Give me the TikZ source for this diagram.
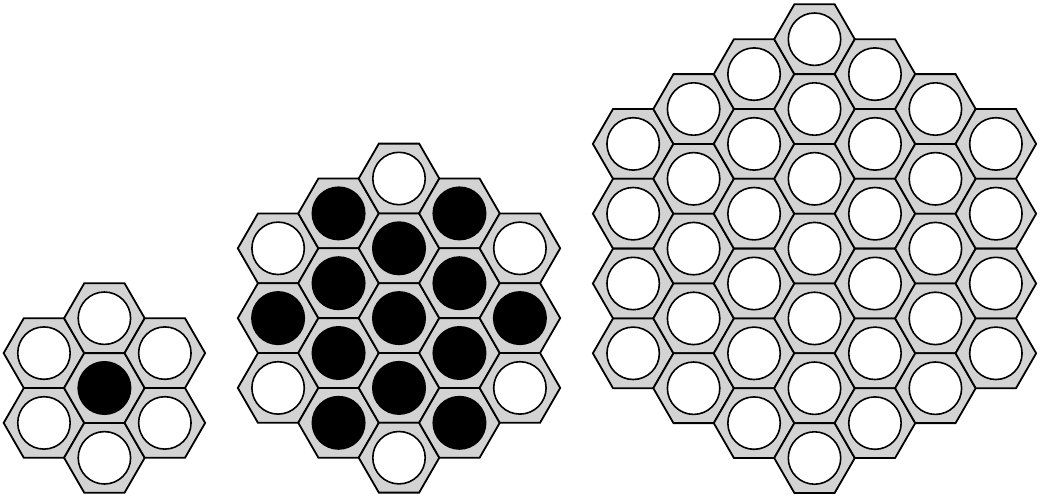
\documentclass[tikz,border=0pt]{standalone}
\definecolor{hexgray}{RGB}{211,211,211}
\tikzset{
  hexcell/.style={fill=hexgray, draw=black, line width=1.8pt, line join=miter},
  holeW/.style={fill=white, draw=black, line width=1.6pt},
  holeB/.style={fill=black, draw=black, line width=1.6pt},
}
% #1 cx, #2 cy, #3 radius N, #4 colour mode
\newcommand\hexcluster[4]{%
  \foreach \qq in {-#3,...,#3}{%
    \pgfmathtruncatemacro\rlo{max(-#3,-\qq-#3)}%
    \pgfmathtruncatemacro\rhi{min(#3,-\qq+#3)}%
    \foreach \rr in {\rlo,...,\rhi}{%
      \pgfmathsetmacro\px{#1+60.45*\qq}%
      \pgfmathsetmacro\py{#2+69.8*(\rr+\qq/2)}%
      \pgfmathtruncatemacro\ss{-\qq-\rr}%
      \pgfmathtruncatemacro\ring{max(abs(\qq),abs(\rr),abs(\ss))}%
      \pgfmathtruncatemacro\mn{min(abs(\qq),abs(\rr),abs(\ss))}%
      \pgfmathtruncatemacro\blk{(#4==1)*(\ring==0) + (#4==2)*max(\ring<2,\mn==1)}%
      \draw[hexcell] (\px+40.3,\py) -- (\px+20.15,\py+34.9) -- (\px-20.15,\py+34.9)
        -- (\px-40.3,\py) -- (\px-20.15,\py-34.9) -- (\px+20.15,\py-34.9) -- cycle;
      \ifnum\blk>0
        \draw[holeB] (\px,\py) circle[radius=26.2pt];
      \else
        \draw[holeW] (\px,\py) circle[radius=26.2pt];
      \fi
    }%
  }%
}
\begin{document}
\begin{tikzpicture}[x=1pt,y=-1pt]
  \useasboundingbox (0,0) rectangle (1040,496);
  \hexcluster{104.4}{388}{1}{1}
  \hexcluster{399}{318.1}{2}{2}
  \hexcluster{814.5}{248.6}{3}{0}
\end{tikzpicture}
\end{document}
